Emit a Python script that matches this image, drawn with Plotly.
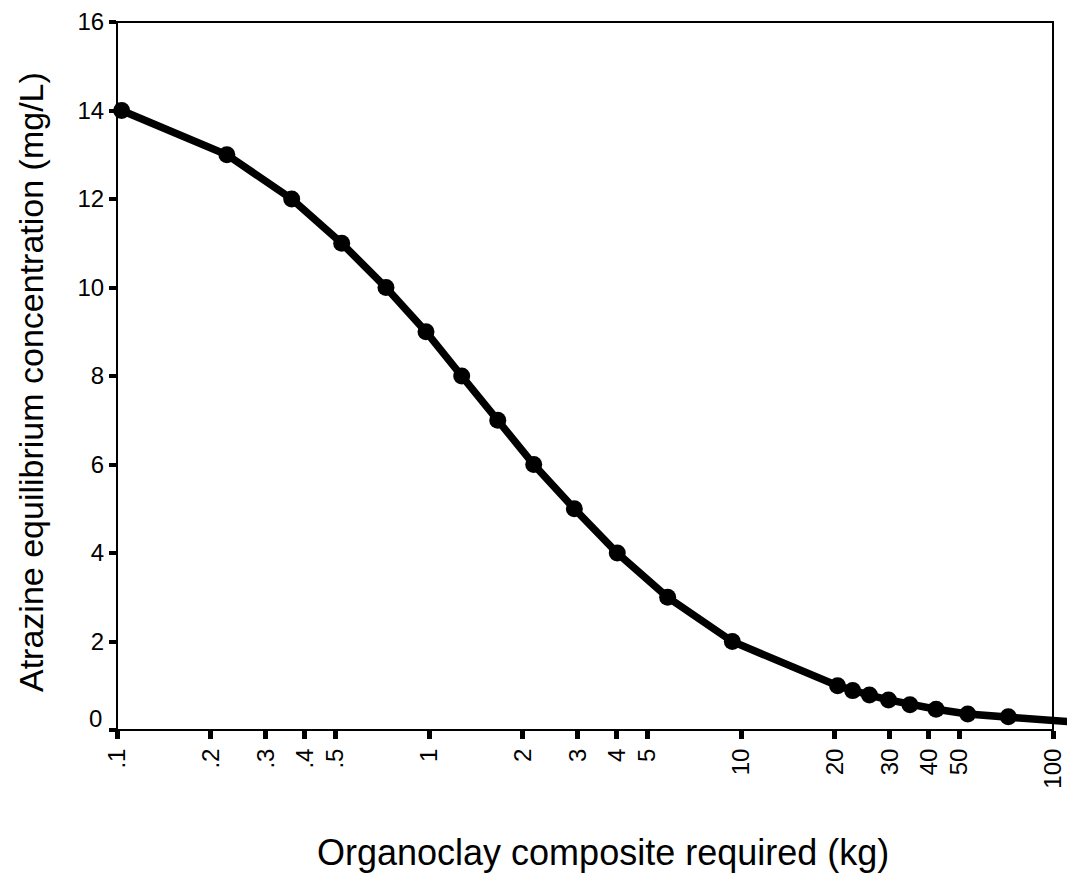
import plotly.graph_objects as go
import math

# Data
organoclay_kg = [0.1035, 0.225, 0.363, 0.525, 0.728, 0.978, 1.273, 1.661, 2.166, 2.923,
                 4.013, 5.82, 9.38, 20.4, 22.8, 25.8, 29.7, 34.8, 42.2, 53.3, 71.9, 150]
atrazine_mgL = [14, 13, 12, 11, 10, 9, 8, 7, 6, 5,
                4, 3, 2, 1, 0.89, 0.79, 0.68, 0.57, 0.47, 0.36, 0.30, 0.12]

x_tickvals = [0.1, 0.2, 0.3, 0.4, 0.5, 1, 2, 3, 4, 5, 10, 20, 30, 40, 50, 100]
x_ticktext = [".1", ".2", ".3", ".4", ".5", "1", "2", "3", "4", "5", "10", "20", "30", "40", "50", "100"]
y_tickvals = [0, 2, 4, 6, 8, 10, 12, 14, 16]
y_ticktext = ["", "2", "4", "6", "8", "10", "12", "14", "16"]

x_title = "Organoclay composite required (kg)"
y_title = "Atrazine equilibrium concentration (mg/L)"

FONT = "Liberation Sans, Arial, sans-serif"

# the page body adds an 8px offset; margins compensate for it
OFF = 8
W, H = 1075, 875
L, T = 117 - OFF, 22 - OFF
R = OFF
B = H - (730 - OFF)
plot_w = W - L - R
plot_h = H - T - B
decade_px = 312.0
x_lo = -1.0
x_hi = x_lo + plot_w / decade_px
frame_right = (math.log10(100) - x_lo) * decade_px / plot_w

fig = go.Figure()
fig.add_trace(go.Scatter(
    x=organoclay_kg, y=atrazine_mgL, mode="lines+markers",
    line=dict(color="black", width=7.5),
    marker=dict(color="black", size=17),
    cliponaxis=False, showlegend=False,
))

fig.update_layout(
    template="none",
    width=W, height=H,
    margin=dict(l=L, r=R, t=T, b=B, pad=0),
    plot_bgcolor="white", paper_bgcolor="white",
    font=dict(family=FONT, color="black", size=24),
    xaxis=dict(
        type="log", range=[x_lo, x_hi], automargin=False,
        tickvals=x_tickvals, ticktext=x_ticktext, tickangle=-90,
        ticks="outside", ticklen=8, tickwidth=5, tickcolor="black",
        showgrid=False, zeroline=False, showline=False,
        tickfont=dict(size=24),
    ),
    yaxis=dict(
        range=[0, 16], tickvals=y_tickvals, ticktext=y_ticktext, automargin=False,
        ticks="outside", ticklen=7, tickwidth=4, tickcolor="black",
        showgrid=False, zeroline=False, showline=False,
        tickfont=dict(size=24),
    ),
    shapes=[
        dict(type="rect", xref="paper", yref="paper", x0=0, x1=frame_right, y0=0, y1=1,
             line=dict(color="black", width=2), layer="below"),
    ],
    annotations=[
        dict(text="0", xref="paper", yref="y", x=0, y=0.27, xanchor="right", yanchor="middle",
             xshift=-13, showarrow=False, font=dict(size=24)),
        dict(text=x_title, xref="paper", yref="paper", x=(603 - 117) / plot_w, y=0,
             xanchor="center", yanchor="middle", yshift=-122, showarrow=False,
             font=dict(size=36)),
        dict(text=y_title, xref="paper", yref="paper", x=0, y=(730 - 382) / plot_h,
             xanchor="center", yanchor="middle", xshift=31 - 117, textangle=-90,
             showarrow=False, font=dict(size=34)),
    ],
)

fig.write_html("out.html")
